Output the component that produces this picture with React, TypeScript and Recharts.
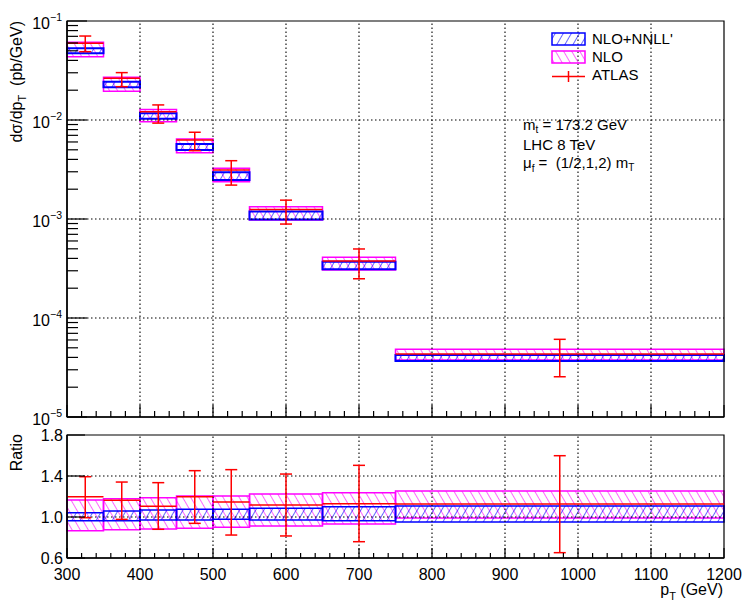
import React from "react";
import {
  ComposedChart,
  XAxis,
  YAxis,
  Scatter,
  ErrorBar,
  ReferenceArea,
  ReferenceLine,
} from "recharts";

const FONT = "'Liberation Sans', Arial, Helvetica, sans-serif";
const BLUE = "#0000ff";
const MAGENTA = "#ff00ff";
const RED = "#ff0000";

// pT bins (GeV)
const binLow = [300, 350, 400, 450, 500, 550, 650, 750];
const binHigh = [350, 400, 450, 500, 550, 650, 750, 1200];

// dσ/dpT (pb/GeV), upper panel
const nnllLow = [0.0472, 0.0214, 0.0103, 0.00498, 0.00248, 0.00099, 0.000311, 3.68e-5];
const nnllHigh = [0.053, 0.0244, 0.0117, 0.00573, 0.00296, 0.00119, 0.000371, 4.23e-5];
const nloLow = [0.0436, 0.0195, 0.0096, 0.00468, 0.00238, 0.000977, 0.000306, 3.77e-5];
const nloHigh = [0.0609, 0.027, 0.0128, 0.00643, 0.00325, 0.00133, 0.00041, 4.83e-5];
const atlas = [0.0596, 0.0264, 0.0121, 0.00628, 0.00313, 0.00125, 0.000377, 4.33e-5];
const atlasUp = [0.0705, 0.0301, 0.0142, 0.00752, 0.00388, 0.00155, 0.000498, 6.09e-5];
const atlasDown = [0.049, 0.0217, 0.0093, 0.0049, 0.0022, 0.000889, 0.000249, 2.55e-5];

// ratio to NLO+NNLL', lower panel
const ratioNnllLow = [0.964, 0.964, 0.971, 0.971, 0.977, 0.971, 0.964, 0.951];
const ratioNnllHigh = [1.042, 1.058, 1.068, 1.075, 1.075, 1.085, 1.1, 1.107];
const ratioNloLow = [0.866, 0.876, 0.883, 0.89, 0.899, 0.912, 0.932, 0.99];
const ratioNloHigh = [1.166, 1.179, 1.188, 1.205, 1.205, 1.224, 1.237, 1.254];
const ratioAtlas = [1.198, 1.163, 1.104, 1.198, 1.146, 1.117, 1.13, 1.127];
const ratioAtlasUp = [1.393, 1.341, 1.335, 1.452, 1.462, 1.419, 1.504, 1.598];
const ratioAtlasDown = [0.993, 0.977, 0.88, 0.938, 0.824, 0.815, 0.759, 0.652];

// axis ticks
const xMajor = [300, 400, 500, 600, 700, 800, 900, 1000, 1100, 1200];
const xGrid = [400, 500, 600, 700, 800, 900, 1000, 1100];
const decades = [1e-5, 1e-4, 1e-3, 1e-2, 1e-1];
const decadeExp = [-5, -4, -3, -2, -1];
const yGrid = [1e-4, 1e-3, 1e-2];
const ratioTicks = [0.6, 1.0, 1.4, 1.8];
const ratioGrid = [1.0, 1.4];

const xTicks: number[] = [];
xMajor.forEach((m, i) => {
  xTicks.push(m);
  if (i < xMajor.length - 1) for (let k = 1; k < 5; k++) xTicks.push(m + k * 20);
});

const logTicks: number[] = [];
decades.forEach((d, i) => {
  logTicks.push(d);
  if (i < decades.length - 1) for (let k = 2; k < 10; k++) logTicks.push(d * k);
});

const atlasPoints = binLow.map((lo, i) => ({
  x: (lo + binHigh[i]) / 2,
  y: atlas[i],
  ex: (binHigh[i] - lo) / 2,
  ey: [atlas[i] - atlasDown[i], atlasUp[i] - atlas[i]],
}));

const ratioPoints = binLow.map((lo, i) => ({
  x: (lo + binHigh[i]) / 2,
  y: ratioAtlas[i],
  ex: (binHigh[i] - lo) / 2,
  ey: [ratioAtlas[i] - ratioAtlasDown[i], ratioAtlasUp[i] - ratioAtlas[i]],
}));

const XTick = (props: any) => {
  const { x, y, payload, labels, major, minor } = props;
  const isMajor = xMajor.includes(payload.value);
  return (
    <g>
      <line x1={x} x2={x} y1={y} y2={y - (isMajor ? major : minor)} stroke="#000" strokeWidth={1.2} />
      {labels && isMajor && (
        <text x={x} y={y + 22} textAnchor="middle" fontSize={16} fontFamily={FONT} fill="#000">
          {payload.value}
        </text>
      )}
    </g>
  );
};

const LogTick = (props: any) => {
  const { x, y, payload } = props;
  const idx = decades.indexOf(payload.value);
  const isMajor = idx >= 0;
  return (
    <g>
      <line x1={x} x2={x + (isMajor ? 20 : 11)} y1={y} y2={y} stroke="#000" strokeWidth={1.2} />
      {isMajor && (
        <text x={x - 5} y={y + 8} textAnchor="end" fontSize={16} fontFamily={FONT} fill="#000">
          10
          <tspan fontSize={10.5} dy={-8}>
            {"\u2212" + Math.abs(decadeExp[idx])}
          </tspan>
        </text>
      )}
    </g>
  );
};

const RatioTick = (props: any) => {
  const { x, y, payload } = props;
  return (
    <g>
      <line x1={x} x2={x + 18} y1={y} y2={y} stroke="#000" strokeWidth={1.2} />
      <text x={x - 4} y={y + 6} textAnchor="end" fontSize={16} fontFamily={FONT} fill="#000">
        {payload.value.toFixed(1)}
      </text>
    </g>
  );
};

const noShape = () => <g />;

function gridLines(xs: number[], ys: number[]) {
  return [
    ...xs.map((v) => (
      <ReferenceLine key={"gx" + v} x={v} stroke="#000" strokeDasharray="1.5 2.5" strokeWidth={1.1} />
    )),
    ...ys.map((v) => (
      <ReferenceLine key={"gy" + v} y={v} stroke="#000" strokeDasharray="1.5 2.5" strokeWidth={1.1} />
    )),
  ];
}

function boxes(lo: number[], hi: number[], fill: string, stroke: string, width: number, key: string) {
  return binLow.map((b, i) => (
    <ReferenceArea
      key={key + i}
      x1={b}
      x2={binHigh[i]}
      y1={lo[i]}
      y2={hi[i]}
      fill={fill}
      fillOpacity={1}
      stroke={stroke}
      strokeWidth={width}
      ifOverflow="visible"
    />
  ));
}

export default function App() {
  return (
    <div style={{ position: "absolute", left: 0, top: 0, width: 747, height: 614, background: "#fff" }}>
      <svg width={0} height={0} style={{ position: "absolute" }}>
        <defs>
          <pattern id="hatchBlue" patternUnits="userSpaceOnUse" width={7} height={7} patternTransform="rotate(30)">
            <line x1={0} y1={0} x2={0} y2={7} stroke={BLUE} strokeWidth={1.2} />
          </pattern>
          <pattern id="hatchMagenta" patternUnits="userSpaceOnUse" width={7} height={7} patternTransform="rotate(-30)">
            <line x1={0} y1={0} x2={0} y2={7} stroke={MAGENTA} strokeWidth={1.2} />
          </pattern>
        </defs>
      </svg>

      <div style={{ position: "absolute", left: 0, top: 0 }}>
        <ComposedChart width={747} height={430} margin={{ top: 21, right: 23, bottom: 0, left: 0 }}>
          <XAxis
            type="number"
            dataKey="x"
            domain={[300, 1200]}
            allowDataOverflow
            ticks={xTicks}
            interval={0}
            height={13}
            tickSize={0}
            tickMargin={0}
            tickLine={false}
            axisLine={{ stroke: "#000", strokeWidth: 1.5 }}
            tick={(p: any) => <XTick {...p} labels={false} major={12} minor={6} />}
          />
          <YAxis
            type="number"
            dataKey="y"
            scale="log"
            domain={[1e-5, 0.1]}
            allowDataOverflow
            ticks={logTicks}
            interval={0}
            width={67}
            tickSize={0}
            tickMargin={0}
            tickLine={false}
            axisLine={{ stroke: "#000", strokeWidth: 1.5 }}
            tick={(p: any) => <LogTick {...p} />}
          />
          {gridLines(xGrid, yGrid)}
          {boxes(nloLow, nloHigh, "url(#hatchMagenta)", MAGENTA, 1.5, "tn")}
          {boxes(nnllLow, nnllHigh, "url(#hatchBlue)", BLUE, 2, "tb")}
          <ReferenceArea x1={300} x2={1200} y1={1e-5} y2={0.1} fill="none" stroke="#000" strokeWidth={1.2} ifOverflow="visible" />
          <Scatter data={atlasPoints} shape={noShape} isAnimationActive={false}>
            <ErrorBar dataKey="ey" direction="y" width={6} stroke={RED} strokeWidth={1.5} isAnimationActive={false} />
            <ErrorBar dataKey="ex" direction="x" width={0} stroke={RED} strokeWidth={1.5} isAnimationActive={false} />
          </Scatter>
        </ComposedChart>
      </div>

      <div style={{ position: "absolute", left: 0, top: 420 }}>
        <ComposedChart width={747} height={194} margin={{ top: 15, right: 23, bottom: 0, left: 0 }}>
          <XAxis
            type="number"
            dataKey="x"
            domain={[300, 1200]}
            allowDataOverflow
            ticks={xTicks}
            interval={0}
            height={56}
            tickSize={0}
            tickMargin={0}
            tickLine={false}
            axisLine={{ stroke: "#000", strokeWidth: 1.5 }}
            tick={(p: any) => <XTick {...p} labels={true} major={10} minor={5} />}
          />
          <YAxis
            type="number"
            dataKey="y"
            domain={[0.6, 1.8]}
            allowDataOverflow
            ticks={ratioTicks}
            interval={0}
            width={67}
            tickSize={0}
            tickMargin={0}
            tickLine={false}
            axisLine={{ stroke: "#000", strokeWidth: 1.5 }}
            tick={(p: any) => <RatioTick {...p} />}
          />
          {gridLines(xGrid, ratioGrid)}
          {boxes(ratioNloLow, ratioNloHigh, "url(#hatchMagenta)", MAGENTA, 1.5, "rn")}
          {boxes(ratioNnllLow, ratioNnllHigh, "url(#hatchBlue)", BLUE, 1.5, "rb")}
          <ReferenceArea x1={300} x2={1200} y1={0.6} y2={1.8} fill="none" stroke="#000" strokeWidth={1.2} ifOverflow="visible" />
          <Scatter data={ratioPoints} shape={noShape} isAnimationActive={false}>
            <ErrorBar dataKey="ey" direction="y" width={6} stroke={RED} strokeWidth={1.5} isAnimationActive={false} />
            <ErrorBar dataKey="ex" direction="x" width={0} stroke={RED} strokeWidth={1.5} isAnimationActive={false} />
          </Scatter>
        </ComposedChart>
      </div>

      <svg
        width={747}
        height={614}
        style={{ position: "absolute", left: 0, top: 0, pointerEvents: "none" }}
        fontFamily={FONT}
      >
        {/* axis titles */}
        <text transform="translate(22,21) rotate(-90)" textAnchor="end" fontSize={16}>
          dσ/dp
          <tspan fontSize={11} dy={4}>T</tspan>
          <tspan dy={-4}>{"\u00a0\u00a0(pb/GeV)"}</tspan>
        </text>
        <text transform="translate(22,434) rotate(-90)" textAnchor="end" fontSize={16}>
          Ratio
        </text>
        <text x={723} y={595} textAnchor="end" fontSize={16}>
          p<tspan fontSize={11} dy={5}>T</tspan>
          <tspan dy={-5}>{"\u00a0(GeV)"}</tspan>
        </text>

        {/* legend */}
        <rect x={552} y={33} width={33} height={12} fill="url(#hatchBlue)" stroke={BLUE} strokeWidth={1.5} />
        <text x={592} y={44} fontSize={15}>NLO+NNLL'</text>
        <rect x={552} y={51} width={33} height={12} fill="url(#hatchMagenta)" stroke={MAGENTA} strokeWidth={1.5} />
        <text x={592} y={62} fontSize={15}>NLO</text>
        <line x1={552} x2={585} y1={76.5} y2={76.5} stroke={RED} strokeWidth={1.5} />
        <line x1={568.5} x2={568.5} y1={71} y2={82} stroke={RED} strokeWidth={1.5} />
        <text x={592} y={80} fontSize={15}>ATLAS</text>

        {/* annotations */}
        <text x={523} y={130} fontSize={15}>
          m<tspan fontSize={10} dy={3}>t</tspan>
          <tspan dy={-3}>{"\u00a0= 173.2 GeV"}</tspan>
        </text>
        <text x={523} y={150} fontSize={15}>LHC 8 TeV</text>
        <text x={523} y={168} fontSize={15}>
          μ<tspan fontSize={10} dy={4}>f</tspan>
          <tspan dy={-4}>{"\u00a0=\u00a0\u00a0(1/2,1,2) m"}</tspan>
          <tspan fontSize={10} dy={3}>T</tspan>
        </text>
      </svg>
    </div>
  );
}
